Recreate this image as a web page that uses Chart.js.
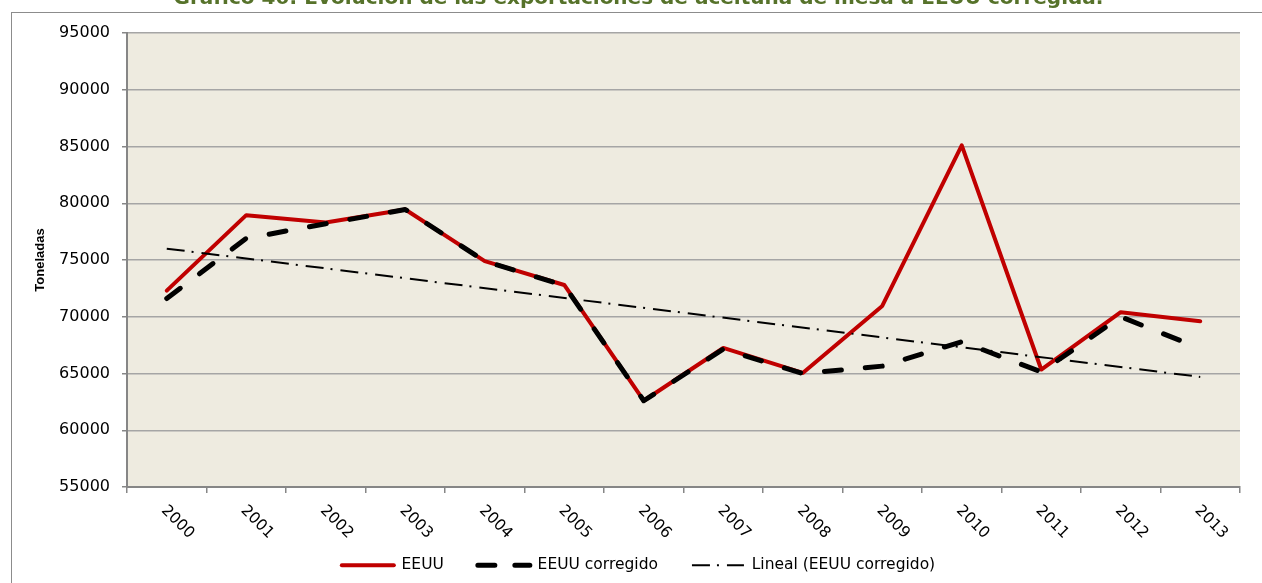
<!DOCTYPE html>
<html lang="es">
<head>
<meta charset="UTF-8">
<title>Exportaciones de aceituna de mesa a EEUU</title>
<script src="https://cdn.jsdelivr.net/npm/chart.js@4.4.0/dist/chart.umd.min.js"></script>
<style>
  html, body { margin: 0; padding: 0; background: #fff; overflow: hidden; }
  #wrap { position: relative; width: 1262px; height: 583px; overflow: hidden; }
  #frame { position: absolute; left: 11px; top: 12px; width: 1300px; height: 620px;
           border-left: 1.5px solid #8c8c8c; border-top: 1.5px solid #8c8c8c; }
  #chart { position: absolute; left: 0; top: 0; }
</style>
</head>
<body>
<div id="wrap">
  <div id="frame"></div>
  <canvas id="chart" width="1262" height="583"></canvas>
</div>
<script>
// años y toneladas exportadas
const years = ['2000', '2001', '2002', '2003', '2004', '2005', '2006', '2007', '2008', '2009', '2010', '2011', '2012', '2013'];
const eeuu = [72300, 78950, 78300, 79450, 74900, 72800, 62600, 67250, 65050, 70950, 85100, 65350, 70400, 69600];
const eeuuCorregido = [71600, 76900, 78200, 79450, 74900, 72750, 62600, 67150, 65000, 65650, 67800, 65150, 70000, 67200];
// línea de tendencia: sólo extremos, el resto se une con spanGaps
const tendencia = [76000, null, null, null, null, null, null, null, null, null, null, null, null, 64700];
const yTicks = [55000, 60000, 65000, 70000, 75000, 80000, 85000, 90000, 95000];

const FONT = 'DejaVu Sans';

// fondo beige del área de trazado
const plotBackground = {
  id: 'plotBackground',
  beforeDraw(chart) {
    const { ctx, chartArea: a } = chart;
    ctx.save();
    ctx.fillStyle = '#EEEBE0';
    ctx.fillRect(a.left, a.top, a.right - a.left, a.bottom - a.top);
    ctx.restore();
  }
};

// etiquetas del eje X giradas hacia abajo
const yearLabels = {
  id: 'yearLabels',
  afterDraw(chart) {
    const { ctx, scales: { x } } = chart;
    ctx.save();
    ctx.font = '15.5px "' + FONT + '"';
    ctx.fillStyle = '#000';
    ctx.textAlign = 'left';
    ctx.textBaseline = 'alphabetic';
    years.forEach((year, i) => {
      const px = x.getPixelForValue(i);
      ctx.save();
      ctx.translate(px - 6, x.top + 24);
      ctx.rotate(Math.PI / 4);
      ctx.fillText(year, 0, 0);
      ctx.restore();
    });
    ctx.restore();
  }
};

// muestras de la leyenda: mismo trazo que la serie
const legendDash = [[], [17, 20], [18, 7, 2, 8]];

new Chart(document.getElementById('chart'), {
  type: 'line',
  data: {
    labels: years,
    datasets: [
      {
        label: 'EEUU',
        data: eeuu,
        borderColor: '#C00000',
        backgroundColor: '#C00000',
        borderWidth: 4,
        borderCapStyle: 'round',
        borderJoinStyle: 'round',
        pointRadius: 0,
        tension: 0,
        order: 3
      },
      {
        label: 'EEUU corregido',
        data: eeuuCorregido,
        borderColor: '#000',
        backgroundColor: '#000',
        borderWidth: 5,
        borderDash: [17, 24],
        borderCapStyle: 'round',
        borderJoinStyle: 'round',
        pointRadius: 0,
        tension: 0,
        order: 2
      },
      {
        label: 'Lineal (EEUU corregido)',
        data: tendencia,
        borderColor: '#000',
        backgroundColor: '#000',
        borderWidth: 2,
        borderDash: [18, 7, 2, 8],
        pointRadius: 0,
        tension: 0,
        spanGaps: true,
        order: 1
      }
    ]
  },
  options: {
    responsive: false,
    animation: false,
    events: [],
    layout: { padding: { left: 37, right: 22, top: 0, bottom: 0 } },
    plugins: {
      tooltip: { enabled: false },
      title: {
        display: true,
        text: 'Gráfico 46: Evolución de las exportaciones de aceituna de mesa a EEUU corregida.',
        color: '#56722A',
        font: { family: FONT, size: 20, weight: 'bold' },
        padding: { top: -13.5, bottom: 22.5 }
      },
      legend: {
        position: 'bottom',
        labels: {
          usePointStyle: true,
          pointStyle: 'line',
          pointStyleWidth: 52,
          padding: 34,
          color: '#000',
          font: { family: FONT, size: 15.5 },
          sort: (a, b) => a.datasetIndex - b.datasetIndex,
          generateLabels(chart) {
            const items = Chart.defaults.plugins.legend.labels.generateLabels(chart);
            items.forEach(item => {
              const ds = chart.data.datasets[item.datasetIndex];
              item.lineDash = legendDash[item.datasetIndex];
              item.lineWidth = ds.borderWidth;
              item.lineCap = item.datasetIndex === 2 ? 'butt' : 'round';
              item.strokeStyle = ds.borderColor;
            });
            return items;
          }
        }
      }
    },
    scales: {
      x: {
        offset: true,
        grid: { offset: true, drawOnChartArea: false, color: '#868686', lineWidth: 1.5, tickLength: 6 },
        border: { color: '#868686', width: 2 },
        ticks: { display: false },
        afterFit(scale) { scale.height = 36.5; }
      },
      y: {
        min: yTicks[0],
        max: yTicks[yTicks.length - 1],
        ticks: {
          stepSize: yTicks[1] - yTicks[0],
          color: '#000',
          padding: 12,
          font: { family: FONT, size: 16 },
          callback: v => String(v)
        },
        grid: { color: '#A5A5A5', lineWidth: 1.5, tickLength: 5, tickColor: '#868686' },
        border: { color: '#868686', width: 2 },
        title: {
          display: true,
          text: 'Toneladas',
          color: '#000',
          font: { family: 'Liberation Sans', size: 13, weight: 'bold' },
          padding: { top: -4, bottom: 0 }
        },
        afterFit(scale) { scale.width = 90; }
      }
    }
  },
  plugins: [plotBackground, yearLabels]
});
</script>
</body>
</html>
